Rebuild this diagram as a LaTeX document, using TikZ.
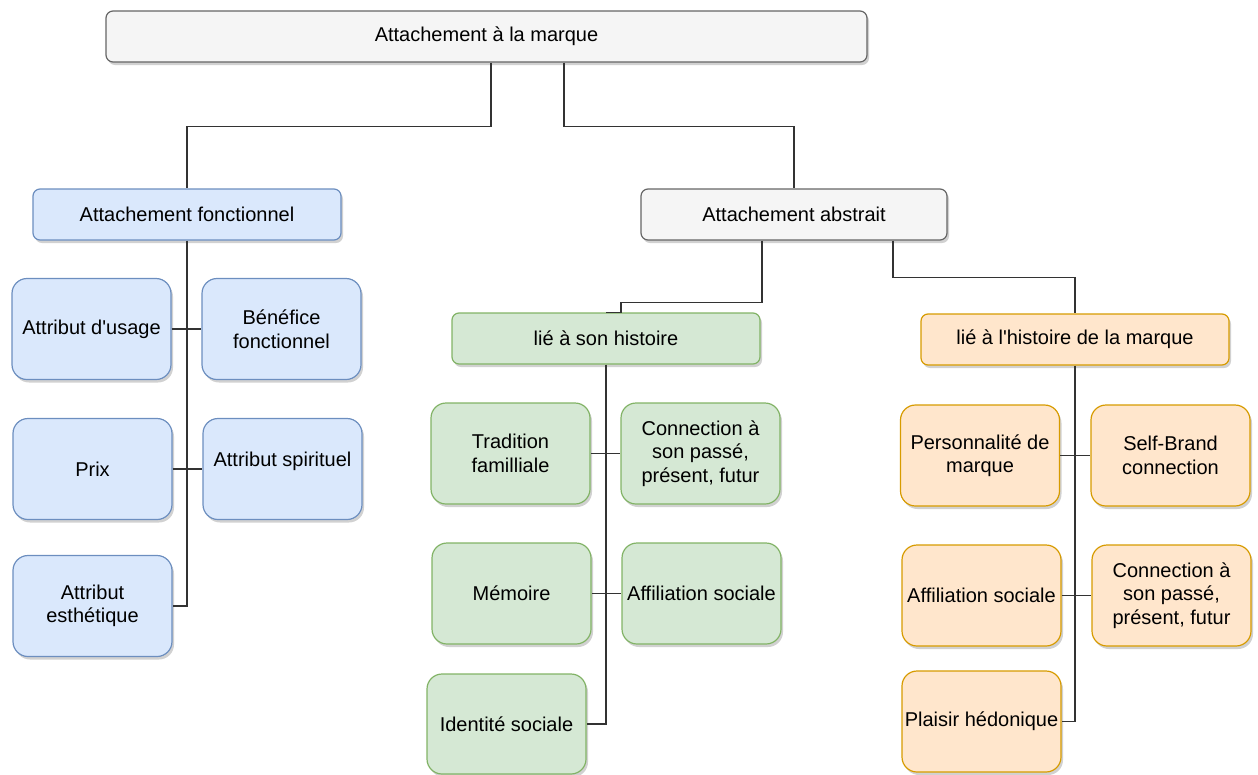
\documentclass[tikz,border=0pt]{standalone}
\usepackage{fontspec}
\setmainfont{Liberation Sans}
\usetikzlibrary{shadows}
\definecolor{bluefill}{HTML}{DAE8FC}
\definecolor{bluedraw}{HTML}{6C8EBF}
\definecolor{grayfill}{HTML}{F5F5F5}
\definecolor{graydraw}{HTML}{666666}
\definecolor{greenfill}{HTML}{D5E8D4}
\definecolor{greendraw}{HTML}{82B366}
\definecolor{orangefill}{HTML}{FFE6CC}
\definecolor{orangedraw}{HTML}{D79B00}
\definecolor{linecol}{HTML}{333333}
\tikzset{
  box/.style={draw, line width=1.2pt, align=center, inner sep=1pt,
    font=\fontsize{20}{23.5}\selectfont, text=black,
    drop shadow={shadow xshift=2pt, shadow yshift=-3pt, opacity=0.18, fill=black}},
  wide/.style={box, rounded corners=7pt, minimum height=51pt},
  small/.style={box, rounded corners=15pt, minimum width=159pt, minimum height=101pt},
  bluebox/.style={fill=bluefill, draw=bluedraw},
  graybox/.style={fill=grayfill, draw=graydraw},
  greenbox/.style={fill=greenfill, draw=greendraw},
  orangebox/.style={fill=orangefill, draw=orangedraw},
  conn/.style={draw=linecol, line width=1.3pt}
}
\begin{document}
\begin{tikzpicture}[x=1pt,y=-1pt]
\useasboundingbox (0,0) rectangle (1258,774);

% top level
\node[wide, graybox, minimum width=761pt] (root) at (486.5,36.5) {Attachement à la marque};
\node[wide, bluebox, minimum width=308pt] (af) at (187,214.5) {Attachement fonctionnel};
\node[wide, graybox, minimum width=306pt] (aa) at (794,214.5) {Attachement abstrait};

% functional
\node[small, bluebox] (usage) at (91.5,329) {Attribut d\textquotesingle usage};
\node[small, bluebox] (benef) at (281.5,329) {Bénéfice\\fonctionnel};
\node[small, bluebox] (prix) at (92.5,469) {Prix};
\node[small, bluebox] (spir) at (282.5,469) {Attribut spirituel\\[-4pt]{}};
\node[small, bluebox] (esth) at (92.5,606) {Attribut\\esthétique};

% abstract: own history
\node[wide, greenbox, minimum width=308pt] (hist) at (606,338.5) {lié à son histoire};
\node[small, greenbox] (trad) at (510.5,453.5) {Tradition\\familliale};
\node[small, greenbox] (conn) at (700.5,453.5) {Connection à\\son passé,\\présent, futur};
\node[small, greenbox] (mem) at (511.5,593.5) {Mémoire};
\node[small, greenbox] (affil) at (701.5,593.5) {Affiliation sociale};
\node[small, greenbox, minimum height=100pt] (ident) at (506.5,724) {Identité sociale};

% abstract: brand history
\node[wide, orangebox, minimum width=308pt] (marque) at (1075,339.5) {lié à l\textquotesingle histoire de la marque};
\node[small, orangebox] (perso) at (980,455.5) {Personnalité de\\marque};
\node[small, orangebox] (selfb) at (1170.5,455.5) {Self-Brand\\connection};
\node[small, orangebox] (affil2) at (981.5,595.5) {Affiliation sociale};
\node[small, orangebox] (conn2) at (1171.5,595.5) {Connection à\\son passé,\\présent, futur};
\node[small, orangebox] (plaisir) at (981.5,721.5) {Plaisir hédonique};

% connectors
\draw[conn] ([xshift=4.5pt]root.south) -- ++(0,64) -| (af.north);
\draw[conn] ([xshift=77.5pt]root.south) -- ++(0,64) -| (aa.north);

\draw[conn] (af.south) -- (af.south |- esth.east) -- (esth.east);
\draw[conn] (usage.east) -- (benef.west);
\draw[conn] (prix.east) -- (spir.west);

\draw[conn] ([xshift=-32pt]aa.south) -- ++(0,62) -| ([xshift=15pt]hist.north) -- (hist.north);
\draw[conn] ([xshift=99pt]aa.south) -- ++(0,37) -| (marque.north);

\draw[conn] (hist.south) -- (hist.south |- ident.east) -- (ident.east);
\draw[conn] (trad.east) -- (conn.west);
\draw[conn] (mem.east) -- (affil.west);

\draw[conn] (marque.south) -- (marque.south |- plaisir.east) -- (plaisir.east);
\draw[conn] (perso.east) -- (selfb.west);
\draw[conn] (affil2.east) -- (conn2.west);
\end{tikzpicture}
\end{document}
